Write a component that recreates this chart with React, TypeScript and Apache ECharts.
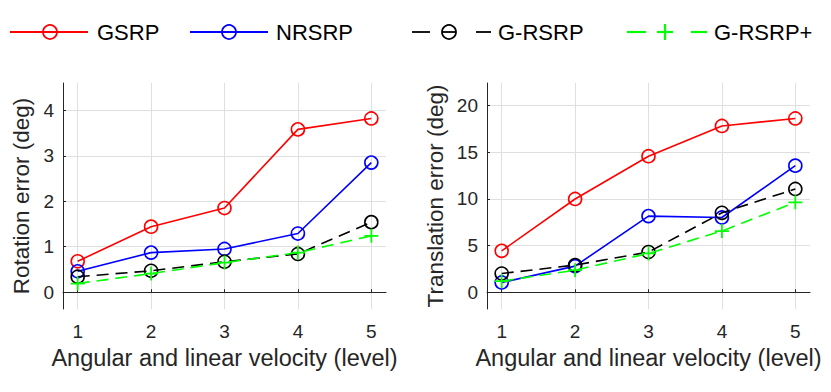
import React, { useEffect, useRef } from "react";
import * as echarts from "echarts";

const levels = [1, 2, 3, 4, 5];
const xTicks = [1, 2, 3, 4, 5];
const rotTicks = [0, 1, 2, 3, 4];
const transTicks = [0, 5, 10, 15, 20];

const rotGSRP = [0.68, 1.44, 1.85, 3.58, 3.82];
const rotNRSRP = [0.46, 0.87, 0.95, 1.29, 2.85];
const rotGRSRP = [0.34, 0.47, 0.67, 0.84, 1.54];
const rotGRSRPPlus = [0.19, 0.41, 0.65, 0.87, 1.24];

const transGSRP = [4.43, 9.98, 14.56, 17.8, 18.6];
const transNRSRP = [1.04, 2.79, 8.15, 8.0, 13.55];
const transGRSRP = [2.0, 2.9, 4.3, 8.5, 11.05];
const transGRSRPPlus = [1.18, 2.36, 4.15, 6.55, 9.62];

const names = ["GSRP", "NRSRP", "G-RSRP", "G-RSRP+"];
const colors = ["#ff0000", "#0000ff", "#000000", "#00ff00"];

const FONT = "Liberation Sans";
const TXT = "#262626";
const plusPath = "path://M-1,-8H1V-1H8V1H1V8H-1V1H-8V-1H-1Z";

function mkSeries(data: number[], k: number, axis: number) {
  const c = colors[k];
  const dashed = k >= 2;
  const isPlus = k === 3;
  return {
    type: "line",
    name: names[k],
    xAxisIndex: axis,
    yAxisIndex: axis,
    data: levels.map((x, i) => [x, data[i]]),
    symbol: isPlus ? plusPath : "circle",
    symbolSize: isPlus ? 14 : 13,
    showSymbol: true,
    lineStyle: { color: c, width: 1.6, type: dashed ? [12, 7] : "solid" },
    itemStyle: isPlus
      ? { color: c, borderWidth: 0 }
      : { color: "rgba(0,0,0,0)", borderColor: c, borderWidth: 1.6 },
    z: 2 + k,
    silent: true,
  };
}

function xAxisDef(grid: number) {
  return {
    type: "value",
    gridIndex: grid,
    min: 0.8,
    max: 5.2,
    name: "Angular and linear velocity (level)",
    nameLocation: "middle",
    nameGap: 32,
    nameTextStyle: { fontFamily: FONT, fontSize: 23.5, color: TXT },
    axisLine: { show: true, lineStyle: { color: TXT, width: 1 } },
    axisTick: { show: true, inside: true, length: 3, customValues: xTicks, lineStyle: { color: TXT } },
    axisLabel: { show: true, customValues: xTicks, margin: 13, fontFamily: FONT, fontSize: 19, color: TXT },
    splitLine: { show: true, lineStyle: { color: "#dfdfdf", width: 1 } },
  };
}

function yAxisDef(grid: number, min: number, max: number, ticks: number[], name: string, gap: number) {
  return {
    type: "value",
    gridIndex: grid,
    min,
    max,
    name,
    nameLocation: "middle",
    nameRotate: 90,
    nameGap: gap,
    nameTextStyle: { fontFamily: FONT, fontSize: 22.5, color: TXT },
    axisLine: { show: true, lineStyle: { color: TXT, width: 1 } },
    axisTick: { show: true, inside: true, length: 3, customValues: ticks, lineStyle: { color: TXT } },
    axisLabel: { show: true, customValues: ticks, margin: 9, fontFamily: FONT, fontSize: 19, color: TXT },
    splitLine: { show: true, lineStyle: { color: "#dfdfdf", width: 1 } },
  };
}

function legendGraphics() {
  const g: any[] = [];
  const cy = 32;
  const lw = 1.8;
  const txt = (x: number, t: string) => ({
    type: "text",
    x,
    y: cy,
    style: { text: t, fontFamily: FONT, fontSize: 22, fill: "#000", verticalAlign: "middle", align: "left" },
  });
  const line = (x1: number, x2: number, c: string, w = lw) => ({
    type: "line",
    shape: { x1, y1: cy, x2, y2: cy },
    style: { stroke: c, lineWidth: w },
  });
  const circ = (cx: number, c: string) => ({
    type: "circle",
    shape: { cx, cy, r: 7 },
    style: { fill: "none", stroke: c, lineWidth: lw },
  });
  // GSRP
  g.push(line(10, 88, colors[0]));
  g.push(circ(50, colors[0]));
  g.push(txt(97, names[0]));
  // NRSRP
  g.push(line(190, 268, colors[1]));
  g.push(circ(229, colors[1]));
  g.push(txt(276, names[1]));
  // G-RSRP
  g.push(line(412, 430, colors[2]));
  g.push(line(442, 456, colors[2]));
  g.push(circ(449, colors[2]));
  g.push(line(476, 491, colors[2]));
  g.push(txt(498, names[2]));
  // G-RSRP+
  g.push(line(627, 646, colors[3], 2.2));
  g.push(line(657, 673, colors[3], 2.2));
  g.push({
    type: "line",
    shape: { x1: 665, y1: cy - 8, x2: 665, y2: cy + 8 },
    style: { stroke: colors[3], lineWidth: 2.2 },
  });
  g.push(line(691, 707, colors[3], 2.2));
  g.push(txt(714, names[3]));
  return g;
}

export default function App() {
  const ref = useRef<HTMLDivElement>(null);
  useEffect(() => {
    if (!ref.current) return;
    const chart = echarts.init(ref.current, null, { renderer: "svg" });
    const rot = [rotGSRP, rotNRSRP, rotGRSRP, rotGRSRPPlus];
    const trans = [transGSRP, transNRSRP, transGRSRP, transGRSRPPlus];
    const series: any[] = [];
    rot.forEach((d, k) => series.push(mkSeries(d, k, 0)));
    trans.forEach((d, k) => series.push(mkSeries(d, k, 1)));
    chart.setOption({
      animation: false,
      backgroundColor: "#ffffff",
      grid: [
        { left: 63, top: 83, width: 323, height: 226 },
        { left: 487, top: 83, width: 323, height: 226 },
      ],
      xAxis: [xAxisDef(0), xAxisDef(1)],
      yAxis: [
        yAxisDef(0, -0.37, 4.6, rotTicks, "Rotation error (deg)", 30),
        yAxisDef(1, -1.8, 22.4, transTicks, "Translation error (deg)", 40),
      ],
      series,
      graphic: legendGraphics(),
    });
    return () => chart.dispose();
  }, []);
  return (
    <div
      ref={ref}
      style={{ position: "fixed", left: 0, top: 0, width: 831, height: 392, background: "#fff" }}
    />
  );
}
